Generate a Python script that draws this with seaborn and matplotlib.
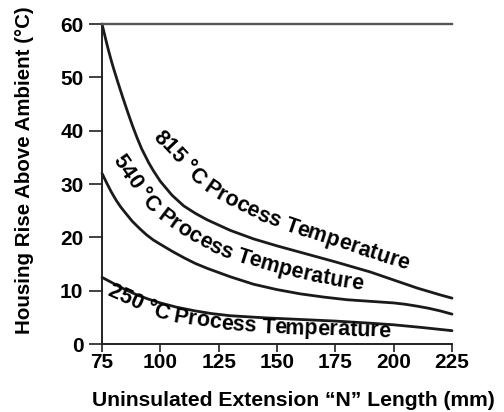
import numpy as np
import pandas as pd
import matplotlib
matplotlib.use("Agg")
import matplotlib.pyplot as plt
import seaborn as sns

# ---------------- data ----------------
x_815 = [75, 76, 77, 78, 79, 80, 81, 82, 84, 86, 88, 90, 92, 95, 97, 100, 105, 110, 115, 120,
         130, 140, 150, 160, 175, 190, 200, 210, 220, 225]
y_815 = [60, 58.2, 56.4, 54.7, 53.1, 51.6, 50.2, 48.8, 46.1, 43.5, 41.0, 38.7, 36.6, 34.0, 32.5,
         30.5, 27.9, 25.9, 24.5, 23.3, 21.3, 19.7, 18.4, 17.2, 15.4, 13.5, 12.0, 10.5, 9.2, 8.6]

x_540 = [75, 77, 79, 81, 83, 85, 88, 91, 94, 97, 100, 105, 110, 115, 120, 125, 130, 140, 150,
         160, 170, 180, 190, 200, 205, 210, 215, 220, 225]
y_540 = [32, 30.2, 28.5, 27.0, 25.7, 24.6, 23.0, 21.7, 20.5, 19.5, 18.7, 17.4, 16.2, 15.1, 14.2,
         13.4, 12.6, 11.2, 10.2, 9.4, 8.8, 8.3, 8.0, 7.7, 7.45, 7.1, 6.7, 6.2, 5.6]

x_250 = [75, 78, 81, 85, 90, 95, 100, 107, 115, 122, 130, 145, 160, 175, 190, 200, 212, 225]
y_250 = [12.5, 11.8, 11.1, 10.2, 9.2, 8.4, 7.7, 6.9, 6.2, 5.7, 5.3, 4.9, 4.6, 4.3, 3.9, 3.6, 3.1, 2.5]

series_labels = ["815 °C Process Temperature",
                 "540 °C Process Temperature",
                 "250 °C Process Temperature"]

x_ticks = [75, 100, 125, 150, 175, 200, 225]
y_ticks = [0, 10, 20, 30, 40, 50, 60]

x_label = "Uninsulated Extension \u201cN\u201d Length (mm)"
y_label = "Housing Rise Above Ambient (°C)"

# label guide paths (baseline of the curved labels, data coordinates)
guide_815 = ([96.6, 105.9, 113.3, 120.8, 134.1, 150.0, 179.2, 205.7],
             [38.7, 34.4, 31.0, 28.0, 24.9, 21.85, 17.6, 13.9])
guide_540 = ([79.3, 84.4, 90.0, 95.6, 102.0, 112.7, 129.0, 159.9, 186.4],
             [34.5, 31.3, 27.75, 24.9, 22.5, 19.5, 16.1, 12.2, 10.1])
guide_250 = ([76.7, 92.1, 95.6, 106.7, 123.4, 139.3, 170.6, 198.4],
             [9.2, 6.2, 5.4, 4.1, 3.0, 2.25, 1.7, 1.3])

df = pd.concat([
    pd.DataFrame({"x": x_815, "y": y_815, "series": series_labels[0]}),
    pd.DataFrame({"x": x_540, "y": y_540, "series": series_labels[1]}),
    pd.DataFrame({"x": x_250, "y": y_250, "series": series_labels[2]}),
], ignore_index=True)

# ---------------- style ----------------
sns.set_theme(style="white")
plt.rcParams["font.family"] = ["Liberation Sans", "DejaVu Sans"]
plt.rcParams["font.weight"] = "bold"

W, H = 504, 412
fig = plt.figure(figsize=(W / 100, H / 100), dpi=100)
ax = fig.add_axes([102 / W, 1 - 344 / H, 350 / W, 320 / H])

sns.lineplot(data=df, x="x", y="y", hue="series", palette=["#1a1a1a"] * 3,
             legend=False, ax=ax, linewidth=2.0, sort=False, estimator=None)
for ln in ax.lines:
    ln.set_clip_on(False)
    ln.set_solid_joinstyle("round")

ax.set_xlim(75, 225)
ax.set_ylim(0, 60)
ax.set_xticks(x_ticks)
ax.set_yticks(y_ticks)
ax.set_xticklabels([str(v) for v in x_ticks], fontsize=15, fontweight="bold", color="black")
ax.set_yticklabels([str(v) for v in y_ticks], fontsize=15, fontweight="bold", color="black")
ax.tick_params(axis="y", direction="out", length=9.4, width=1.3, color="#333333", pad=4, left=True)
ax.tick_params(axis="x", direction="out", length=5.5, width=1.3, color="#333333", pad=1.0, bottom=True)
ax.set_xlabel("")
ax.set_ylabel("")

for side in ["left", "bottom"]:
    ax.spines[side].set_color("#222222")
    ax.spines[side].set_linewidth(1.4)
ax.spines["top"].set_color("#555555")
ax.spines["top"].set_linewidth(1.7)
ax.spines["right"].set_visible(False)
ax.grid(False)

fig.text(293.5 / W, 1 - 400 / H, x_label, ha="center", va="center",
         fontsize=15.2, fontweight="bold", color="black")
fig.text(25 / W, 1 - 170 / H, y_label, ha="center", va="center", rotation=90,
         fontsize=14.8, fontweight="bold", color="black")


# ---------------- curved labels ----------------
def catmull(P, n=40):
    P = np.vstack([2 * P[0] - P[1], P, 2 * P[-1] - P[-2]])
    out = []
    t = np.linspace(0, 1, n, endpoint=False)[:, None]
    for i in range(1, len(P) - 2):
        p0, p1, p2, p3 = P[i - 1], P[i], P[i + 1], P[i + 2]
        out.append(0.5 * ((2 * p1) + (-p0 + p2) * t + (2 * p0 - 5 * p1 + 4 * p2 - p3) * t ** 2
                          + (-p0 + 3 * p1 - 3 * p2 + p3) * t ** 3))
    out.append(P[-2][None])
    return np.vstack(out)


fig.canvas.draw()
renderer = fig.canvas.get_renderer()


def text_width(s, fs):
    t = fig.text(0, 0, s, fontsize=fs, fontweight="bold")
    w = t.get_window_extent(renderer=renderer).width
    t.remove()
    return w


def text_along(text, gx, gy, fs):
    pts = ax.transData.transform(np.column_stack([gx, gy]))
    dense = catmull(pts)
    seg = np.hypot(np.diff(dense[:, 0]), np.diff(dense[:, 1]))
    s = np.concatenate([[0], np.cumsum(seg)])
    L = s[-1]
    ref = text_width("l", fs)
    w = [0.0]
    for i in range(1, len(text) + 1):
        w.append(text_width(text[:i] + "l", fs) - ref)
    k = L / w[-1]
    inv = ax.transData.inverted()
    for i, ch in enumerate(text):
        if ch == " ":
            continue
        c = 0.5 * (w[i] + w[i + 1]) * k
        px = np.interp(c, s, dense[:, 0])
        py = np.interp(c, s, dense[:, 1])
        a0, a1 = max(c - 5, 0), min(c + 5, L)
        dx = np.interp(a1, s, dense[:, 0]) - np.interp(a0, s, dense[:, 0])
        dy = np.interp(a1, s, dense[:, 1]) - np.interp(a0, s, dense[:, 1])
        ang = np.degrees(np.arctan2(dy, dx))
        xd, yd = inv.transform((px, py))
        ax.text(xd, yd, ch, fontsize=fs, fontweight="bold", color="black",
                rotation=ang, rotation_mode="anchor", ha="center", va="baseline",
                clip_on=False)


text_along(series_labels[0], *guide_815, fs=15.5)
text_along(series_labels[1], *guide_540, fs=15.5)
text_along(series_labels[2], *guide_250, fs=15.5)

fig.savefig("out.png", dpi=100)
